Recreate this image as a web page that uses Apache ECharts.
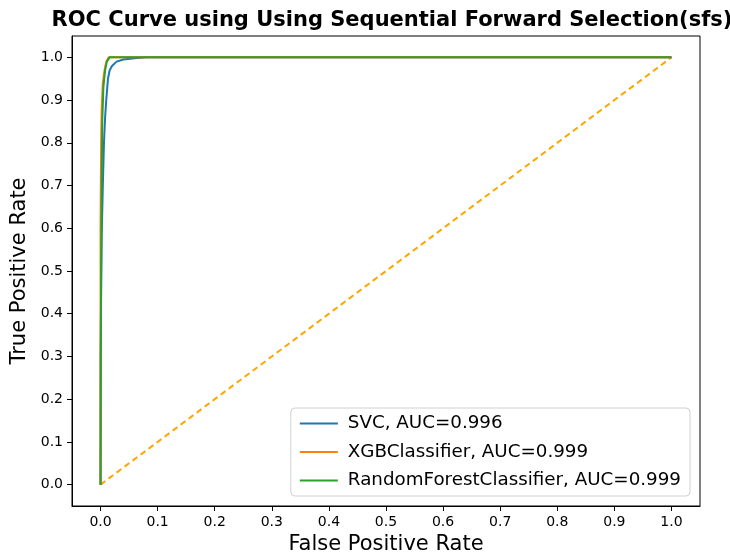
<!DOCTYPE html>
<html>
<head>
<meta charset="utf-8">
<script src="https://cdn.jsdelivr.net/npm/echarts@6/dist/echarts.min.js"></script>
<style>
  html, body { margin: 0; padding: 0; background: #fff; }
  #chart { width: 730px; height: 556px; }
</style>
</head>
<body>
<div id="chart"></div>
<script>
// ROC points [fpr, tpr]
const svcRoc = [
  [0, 0], [0, 0.3], [0.001, 0.45], [0.002, 0.58], [0.004, 0.7], [0.006, 0.8],
  [0.008, 0.86], [0.01, 0.9], [0.013, 0.95], [0.016, 0.97], [0.02, 0.98],
  [0.028, 0.99], [0.04, 0.995], [0.06, 0.998], [0.08, 1.0], [1, 1]
];
const xgbRoc = [
  [0, 0], [0, 0.6], [0.001, 0.8], [0.002, 0.88], [0.004, 0.94],
  [0.007, 0.97], [0.01, 0.99], [0.014, 1.0], [1, 1]
];
const rfRoc = [
  [0, 0], [0.001, 0.5], [0.002, 0.7], [0.003, 0.85], [0.005, 0.93],
  [0.008, 0.97], [0.011, 0.99], [0.016, 1.0], [1, 1]
];
const chanceLine = [[0, 0], [1, 1]];
const seriesNames = ['SVC, AUC=0.996', 'XGBClassifier, AUC=0.999', 'RandomForestClassifier, AUC=0.999'];
const tickValues = [0, 0.1, 0.2, 0.3, 0.4, 0.5, 0.6, 0.7, 0.8, 0.9, 1.0];

const font = 'DejaVu Sans';

function axisCommon(name, gap) {
  return {
    type: 'value',
    min: -0.05,
    max: 1.05,
    name: name,
    nameLocation: 'middle',
    nameGap: gap,
    nameTextStyle: { fontFamily: font, fontSize: 21, color: '#000' },
    axisLine: { show: true, onZero: false, lineStyle: { color: '#000', width: 1 } },
    axisTick: { show: true, length: 5, customValues: tickValues, lineStyle: { color: '#000' } },
    axisLabel: {
      customValues: tickValues,
      fontFamily: font, fontSize: 14, color: '#000', margin: 9,
      formatter: v => v.toFixed(1)
    },
    splitLine: { show: false }
  };
}

const chart = echarts.init(document.getElementById('chart'));
chart.setOption({
  animation: false,
  backgroundColor: '#fff',
  title: {
    text: 'ROC Curve using Using Sequential Forward Selection(sfs)',
    left: 387,
    textAlign: 'center',
    top: 5,
    textStyle: { fontFamily: font, fontSize: 21, fontWeight: 'bold', color: '#000' }
  },
  grid: {
    left: 72, right: 30, top: 36, bottom: 50,
    outerBoundsMode: 'none',
    containLabel: false,
    show: true, borderColor: '#000', borderWidth: 1
  },
  xAxis: axisCommon('False Positive Rate', 27),
  yAxis: axisCommon('True Positive Rate', 40),
  legend: {
    data: seriesNames,
    orient: 'vertical',
    right: 40,
    bottom: 60,
    align: 'left',
    icon: 'rect',
    itemWidth: 38,
    itemHeight: 2,
    itemGap: 6.5,
    padding: [4.5, 9, 4.5, 9],
    borderColor: '#d0d0d0',
    borderWidth: 1,
    borderRadius: 4,
    backgroundColor: 'rgba(255,255,255,0.8)',
    textStyle: { fontFamily: font, fontSize: 18.3, color: '#000', lineHeight: 22, padding: [0, 0, 0, 5] }
  },
  series: [
    {
      name: 'chance', type: 'line', data: chanceLine, symbol: 'none', z: 1,
      lineStyle: { color: '#ffa500', width: 2, type: [6, 4] }
    },
    {
      name: seriesNames[0], type: 'line', data: svcRoc, symbol: 'none', z: 2,
      color: '#1f77b4', lineStyle: { color: '#1f77b4', width: 2 }
    },
    {
      name: seriesNames[1], type: 'line', data: xgbRoc, symbol: 'none', z: 3,
      color: '#ff7f0e', lineStyle: { color: '#ff7f0e', width: 2 }
    },
    {
      name: seriesNames[2], type: 'line', data: rfRoc, symbol: 'none', z: 4,
      color: '#2ca02c', lineStyle: { color: '#2ca02c', width: 2 }
    }
  ]
});
</script>
</body>
</html>
